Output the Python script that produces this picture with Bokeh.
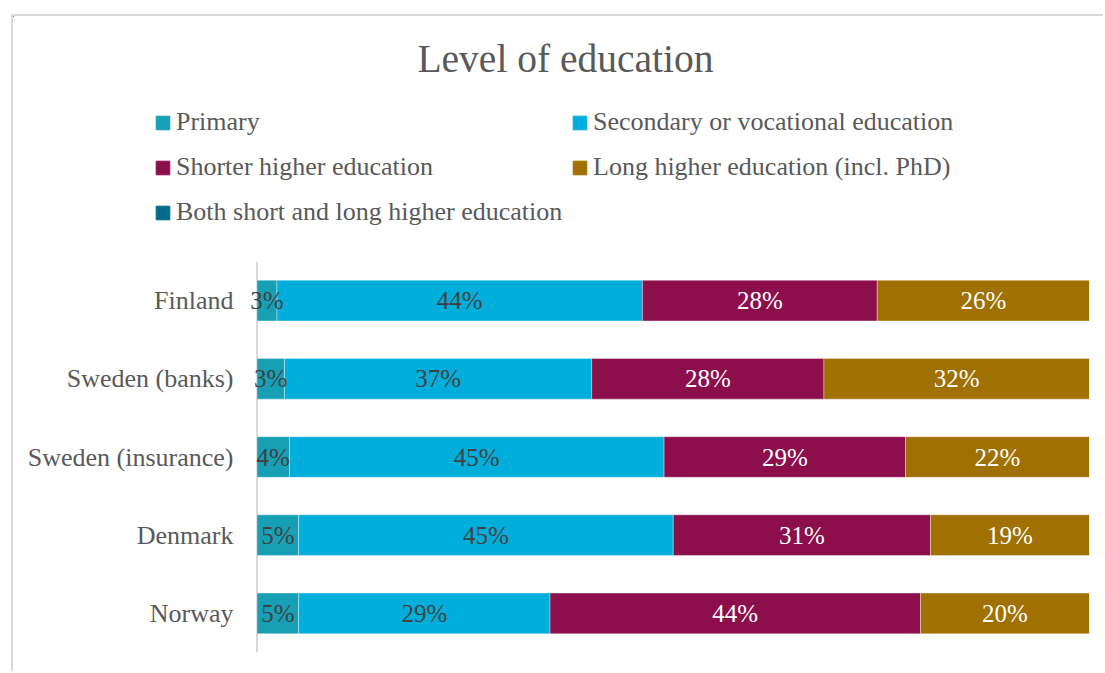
from bokeh.plotting import figure
from bokeh.models import (ColumnDataSource, FactorRange, Range1d, Legend, LegendItem,
                          Label, Span)
from bokeh.core.properties import value
from bokeh.embed import file_html
from bokeh.resources import INLINE
import numpy as np

# ---------------- data ----------------
countries = ["Finland", "Sweden (banks)", "Sweden (insurance)", "Denmark", "Norway"]
series = ["Primary", "Secondary or vocational education", "Shorter higher education",
          "Long higher education (incl. PhD)", "Both short and long higher education"]
primary = [2.4, 3.3, 3.9, 5.0, 5.0]
secondary = [43.9, 36.9, 45.0, 45.0, 30.2]
shorter = [28.2, 27.9, 29.0, 30.9, 44.5]
longer = [25.5, 31.9, 22.1, 19.1, 20.3]
both = [0.0, 0.0, 0.0, 0.0, 0.0]
lbl_primary = ["3%", "3%", "4%", "5%", "5%"]
lbl_secondary = ["44%", "37%", "45%", "45%", "29%"]
lbl_shorter = ["28%", "28%", "29%", "31%", "44%"]
lbl_longer = ["26%", "32%", "22%", "19%", "20%"]

colors = ["#17A0B5", "#00AEDB", "#8C0F4B", "#A07000", "#006B8A"]
label_colors = ["#404040", "#404040", "#FFFFFF", "#FFFFFF"]

FONT = "Liberation Serif"
GRAY = "#595959"
BORDER = "2px solid #D9D9D9"

W = 1092

# ---------------- header figure: title + legend ----------------
top = figure(width=W, height=237, output_backend="svg", toolbar_location=None,
             x_range=Range1d(0, W), y_range=Range1d(237, 0),
             x_axis_location=None, y_axis_location=None, min_border=0)
top.outline_line_color = None
top.grid.visible = False
top.border_fill_color = "white"
top.styles = {"margin-left": "11px", "margin-top": "14px",
              "border-left": BORDER, "border-top": BORDER}

top.add_layout(Label(x=552, y=42, text="Level of education", text_font=FONT,
                     text_font_size="39.5px", text_color=GRAY,
                     text_align="center", text_baseline="middle"))

dummy = []
for c in colors:
    dummy.append(top.hbar(y=[-100], right=[0], left=[0], height=1,
                          fill_color=c, line_color=c))

def make_legend(idx, x, y):
    items = [LegendItem(label=series[i], renderers=[dummy[i]]) for i in idx]
    lg = Legend(items=items, location=(x, y), orientation="vertical",
                label_text_font=FONT, label_text_font_size="26px",
                label_text_color=GRAY, glyph_width=17, glyph_height=17,
                label_standoff=5, label_height=30, spacing=15, padding=0,
                margin=0, border_line_color=None, background_fill_alpha=0)
    top.add_layout(lg, "center")

make_legend([0, 2, 4], 141, 26)
make_legend([1, 3], 558, 71)

# ---------------- bar figure ----------------
vals = np.array([primary, secondary, shorter, longer, both], dtype=float)
vals = vals / vals.sum(axis=0) * 100.0
keys = ["p", "s", "sh", "l", "b"]
data = {"country": countries}
for k, v in zip(keys, vals):
    data[k] = list(v)
source = ColumnDataSource(data)

p = figure(width=W, height=420, output_backend="svg", toolbar_location=None,
           y_range=FactorRange(factors=countries[::-1], range_padding=0),
           x_range=Range1d(-1.5, 100), x_axis_location=None,
           min_border_left=231, min_border_right=16, min_border_top=10,
           min_border_bottom=19)
p.outline_line_color = None
p.grid.visible = False
p.border_fill_color = "white"
p.styles = {"margin-left": "11px", "border-left": BORDER}

# category axis line at zero (beneath bars and labels)
p.add_layout(Span(location=0, dimension="height", line_color="#D9D9D9",
                  line_width=2, level="underlay"))

p.hbar_stack(keys, y="country", height=0.52, color=colors,
             line_color="white", line_width=0.6, line_alpha=0.6, source=source)

cum = np.cumsum(vals, axis=0)
starts = cum - vals
all_lbls = [lbl_primary, lbl_secondary, lbl_shorter, lbl_longer]
for i in range(4):
    mid = list(starts[i] + vals[i] / 2)
    src = ColumnDataSource(dict(x=mid, y=countries, t=all_lbls[i]))
    p.text(x="x", y="y", text="t", source=src, text_align="center",
           text_baseline="middle", text_font=value(FONT), text_font_size="25px",
           text_color=label_colors[i])

ax = p.yaxis[0]
ax.axis_line_color = None
ax.major_tick_line_color = None
ax.minor_tick_line_color = None
ax.major_tick_out = 0
ax.major_tick_in = 0
ax.major_label_text_font = FONT
ax.major_label_text_font_size = "26px"
ax.major_label_text_color = GRAY
ax.major_label_standoff = 11

open("out.html", "w").write(file_html([top, p], INLINE))
